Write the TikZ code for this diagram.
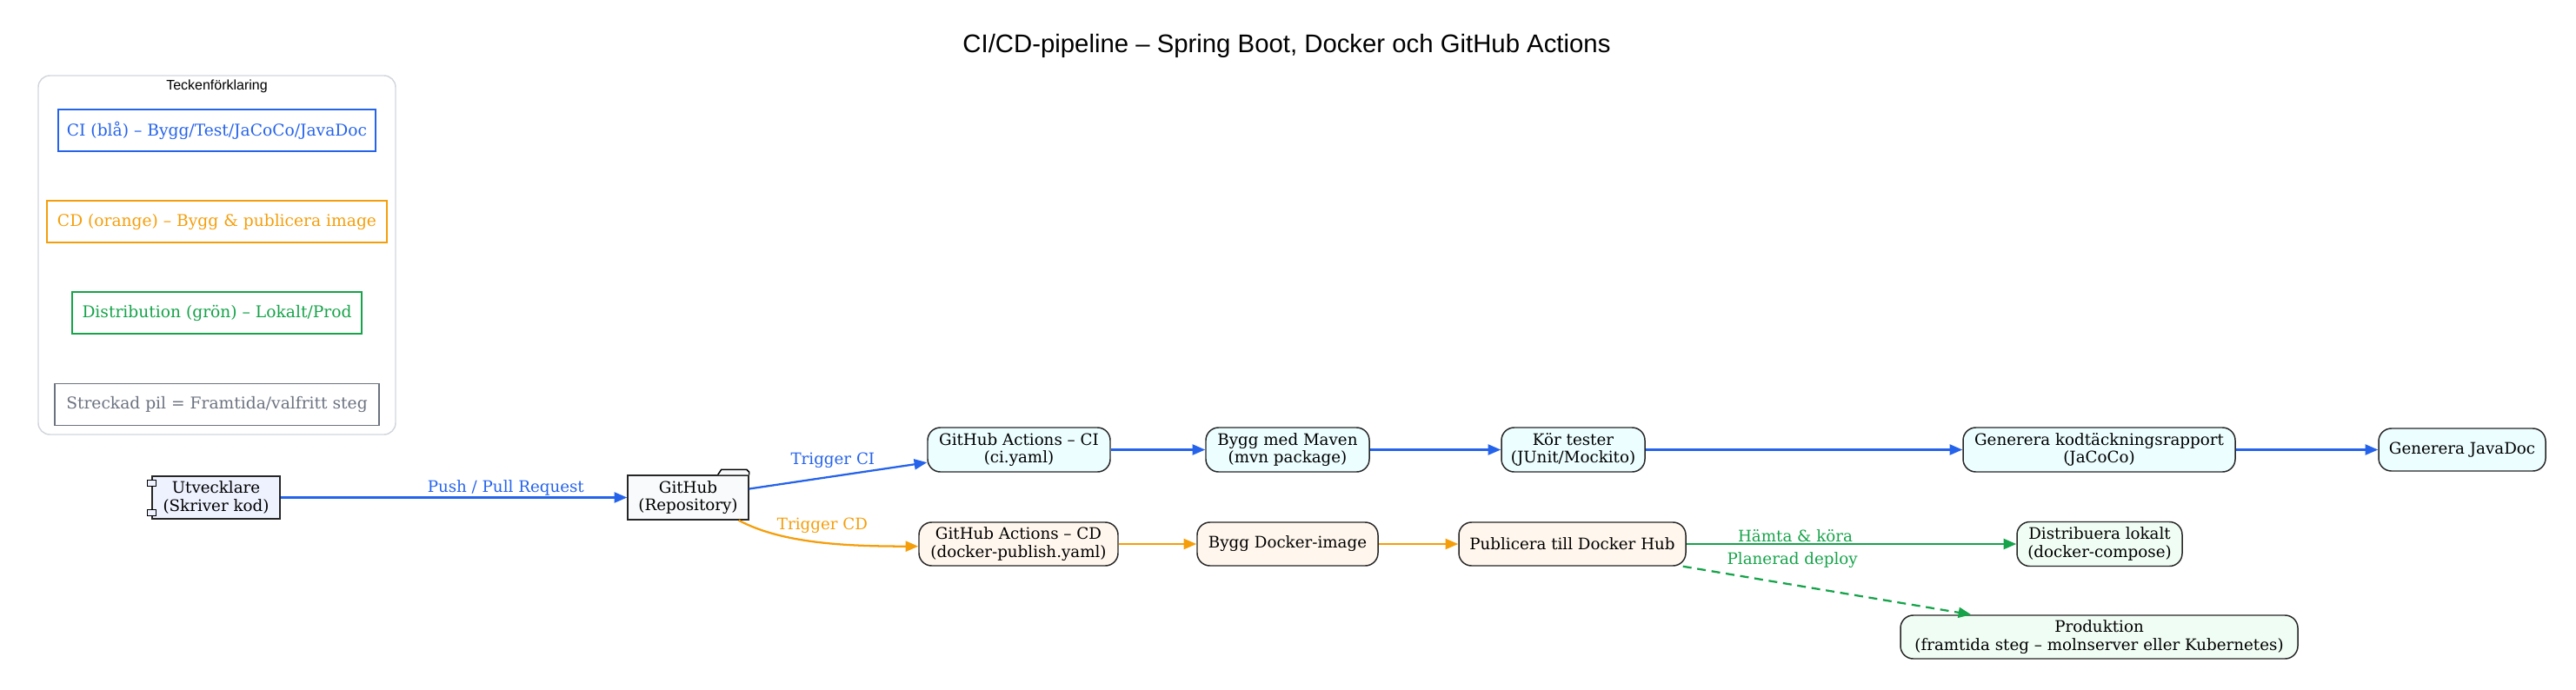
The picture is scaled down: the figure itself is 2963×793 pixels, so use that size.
\documentclass[tikz,border=0pt]{standalone}
\usepackage{fontspec}
\setmainfont{DejaVu Serif}
\newfontfamily\titlefont{Liberation Sans}
\usepackage{tikz}
\usetikzlibrary{arrows.meta,positioning}

\definecolor{ciblue}{HTML}{2563EB}
\definecolor{cdorange}{HTML}{F59E0B}
\definecolor{distgreen}{HTML}{16A34A}
\definecolor{futuregray}{HTML}{6B7280}
\definecolor{legendgray}{HTML}{D1D5DB}
\definecolor{cifill}{HTML}{ECFEFF}
\definecolor{cdfill}{HTML}{FFF7ED}
\definecolor{distfill}{HTML}{F0FDF4}
\definecolor{devfill}{HTML}{EEF2FF}
\definecolor{repofill}{HTML}{F8FAFC}

\tikzset{
    txt/.style={font=\fontsize{13.7}{15.5}\selectfont},
    box/.style={txt, draw=black!85, line width=1.1pt, align=center, inner sep=2pt},
    ciStep/.style={box, rounded corners=11pt, fill=cifill},
    cdStep/.style={box, rounded corners=11pt, fill=cdfill},
    distStep/.style={box, rounded corners=11pt, fill=distfill},
    legItem/.style={font=\fontsize{14}{16}\selectfont, draw, line width=0.9pt, minimum height=36pt, inner sep=2pt},
    flow/.style={line width=1.7pt, -{Triangle[length=11pt,width=9pt]}},
    ciFlow/.style={flow, draw=ciblue},
    cdFlow/.style={flow, draw=cdorange},
    distFlow/.style={flow, draw=distgreen}
}

\begin{document}
\begin{tikzpicture}[x=0.75pt,y=-0.75pt]
    \useasboundingbox (0,0) rectangle (2963,793);

    % rubrik
    \node[font=\titlefont\fontsize{22}{26}\selectfont] (title) at (1480,53) {CI/CD-pipeline – Spring Boot, Docker och GitHub Actions};

    % teckenforklaring
    \draw[draw=legendgray, line width=1.1pt, rounded corners=10pt] (44,87) rectangle (455,500);
    \node[font=\titlefont\fontsize{12}{14}\selectfont] (legtitle) at (249.5,99) {Teckenförklaring};
    \node[legItem, draw=ciblue, text=ciblue, minimum width=273.75pt] (legci) at (249.5,150) {CI (blå) – Bygg/Test/JaCoCo/JavaDoc};
    \node[legItem, draw=cdorange, text=cdorange, minimum width=293.25pt] (legcd) at (249.5,255) {CD (orange) – Bygg \& publicera image};
    \node[legItem, draw=distgreen, text=distgreen, minimum width=249.75pt] (legdist) at (249.5,360) {Distribution (grön) – Lokalt/Prod};
    \node[legItem, draw=futuregray, text=futuregray, minimum width=279.75pt] (legdash) at (249.5,465.5) {Streckad pil = Framtida/valfritt steg};

    % utvecklare och repo
    \node[box, fill=devfill, minimum width=110.25pt, minimum height=36.75pt] (dev) at (248.5,572.5) {Utvecklare\\(Skriver kod)};
    \draw[fill=devfill, line width=0.8pt] ([shift={(-5,5)}]dev.north west) rectangle ++(10,7);
    \draw[fill=devfill, line width=0.8pt] ([shift={(-5,-11)}]dev.south west) rectangle ++(10,7);
    \node[box, fill=repofill, minimum width=104.25pt, minimum height=38.25pt] (repo) at (791.5,572.5) {GitHub\\(Repository)};
    \draw[fill=repofill, line width=1.1pt] ([shift={(-36,0)}]repo.north east) -- ++(4,-6) -- ++(29,0) -- ++(3,3) -- (repo.north east);

    % CI-kedjan
    \node[ciStep, minimum width=157.5pt, minimum height=38.25pt] (ci) at (1172,517.5) {GitHub Actions – CI\\(ci.yaml)};
    \node[ciStep, minimum width=141pt, minimum height=38.25pt] (mvn) at (1481,517.5) {Bygg med Maven\\(mvn package)};
    \node[ciStep, minimum width=123.75pt, minimum height=38.25pt] (test) at (1809.5,517.5) {Kör tester\\(JUnit/Mockito)};
    \node[ciStep, minimum width=234.75pt, minimum height=38.25pt] (jacoco) at (2414.5,517.5) {Generera kodtäckningsrapport\\(JaCoCo)};
    \node[ciStep, minimum width=144pt, minimum height=36.75pt] (javadoc) at (2832,517.5) {Generera JavaDoc};

    % CD-kedjan
    \node[cdStep, minimum width=171.75pt, minimum height=37.5pt] (cd) at (1171.5,626) {GitHub Actions – CD\\(docker-publish.yaml)};
    \node[cdStep, minimum width=156pt, minimum height=37.5pt] (dimg) at (1481,626) {Bygg Docker-image};
    \node[cdStep, minimum width=195.75pt, minimum height=37.5pt] (hub) at (1808.5,626) {Publicera till Docker Hub};

    % distribution
    \node[distStep, minimum width=142.5pt, minimum height=38.25pt] (local) at (2415,626) {Distribuera lokalt\\(docker-compose)};
    \node[distStep, minimum width=342.75pt, minimum height=37.5pt] (prod) at (2414.5,733) {Produktion\\(framtida steg – molnserver eller Kubernetes)};

    % pilar
    \draw[ciFlow] (dev) -- (repo) node[txt, text=ciblue, pos=0.65, above, inner sep=1pt] {Push / Pull Request};
    \draw[ciFlow] ([yshift=7.5pt]repo.east) -- ([yshift=-11pt]ci.west) node[txt, text=ciblue, pos=0.47, above=3pt] {Trigger CI};
    \draw[cdFlow] ([xshift=-9pt]repo.south east) .. controls +(50,27) and +(-80,0) .. ([yshift=-2pt]cd.west) node[txt, text=cdorange, pos=0.52, above=4pt] {Trigger CD};
    \draw[ciFlow] (ci) -- (mvn);
    \draw[ciFlow] (mvn) -- (test);
    \draw[ciFlow] (test) -- (jacoco);
    \draw[ciFlow] (jacoco) -- (javadoc);
    \draw[cdFlow] (cd) -- (dimg);
    \draw[cdFlow] (dimg) -- (hub);
    \draw[distFlow] (hub) -- (local) node[txt, text=distgreen, pos=0.33, above, inner sep=1pt] {Hämta \& köra};
    \draw[distFlow, dashed, dash pattern=on 7.5pt off 5pt] ([xshift=-3pt]hub.south east) -- ([xshift=61.5pt]prod.north west) node[txt, text=distgreen, pos=0.38, above=10pt] {Planerad deploy};
\end{tikzpicture}
\end{document}
